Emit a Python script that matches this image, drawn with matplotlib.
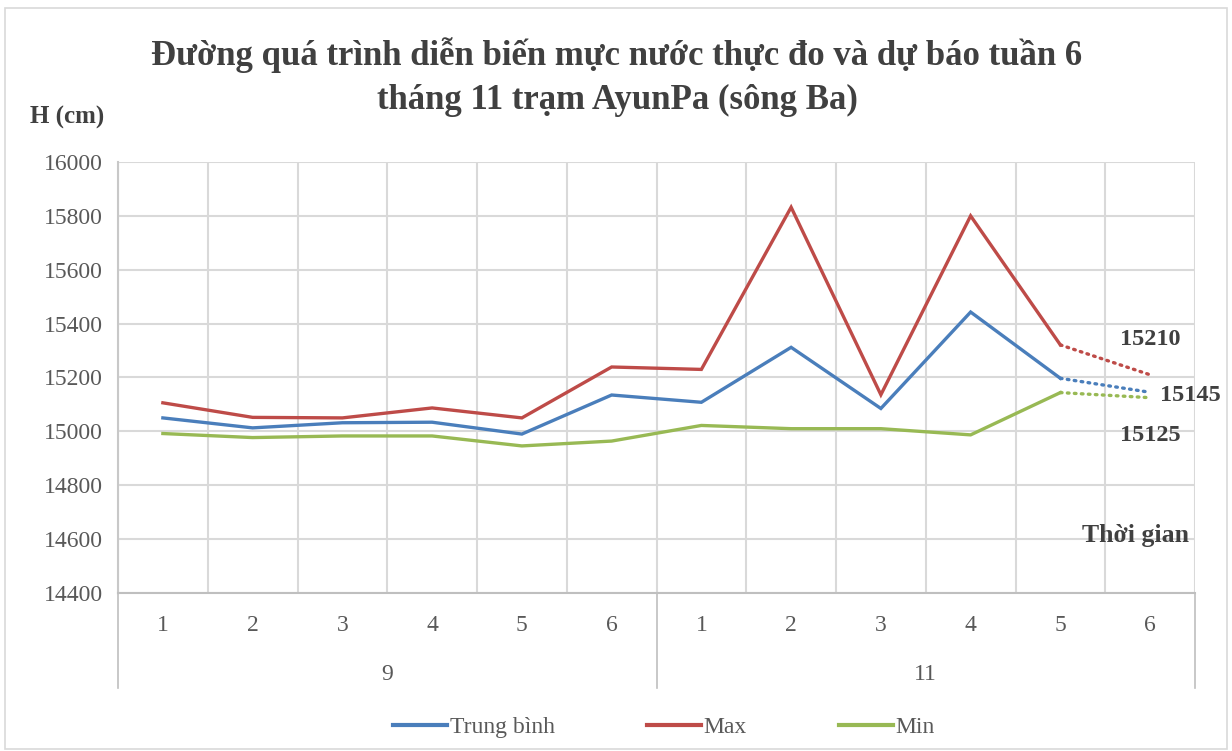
import matplotlib
matplotlib.use("Agg")
import matplotlib.pyplot as plt
from matplotlib.lines import Line2D
from matplotlib.patches import Rectangle

weeks = ["1", "2", "3", "4", "5", "6", "1", "2", "3", "4", "5", "6"]
months = ["9", "11"]
trung_binh = [15050, 15013, 15032, 15034, 14990, 15135, 15108, 15312, 15085, 15443, 15197]
max_vals = [15106, 15052, 15050, 15087, 15050, 15239, 15230, 15832, 15136, 15800, 15321]
min_vals = [14992, 14977, 14983, 14983, 14946, 14964, 15022, 15010, 15010, 14987, 15144]
forecast_tb = 15145
forecast_max = 15210
forecast_min = 15125
yticks = [14400, 14600, 14800, 15000, 15200, 15400, 15600, 15800, 16000]

C_TB = "#4a7ebb"
C_MAX = "#be4b48"
C_MIN = "#98b954"
SERIF = "Liberation Serif"
TXT = "#595959"
DARK = "#404040"

fig = plt.figure(figsize=(12.32, 7.51), dpi=100)
fig.patches.append(Rectangle((0.004, 0.002), 0.992, 0.987, transform=fig.transFigure,
                             fill=False, edgecolor="#d9d9d9", linewidth=1.2))
ax = fig.add_axes([118/1232, 1-593/751, (1195-118)/1232, (593-162)/751])

x = list(range(len(trung_binh)))
ax.plot(x, trung_binh, color=C_TB, lw=2.4, solid_joinstyle="miter")
ax.plot(x, max_vals, color=C_MAX, lw=2.4, solid_joinstyle="miter")
ax.plot(x, min_vals, color=C_MIN, lw=2.4, solid_joinstyle="miter")
n = len(trung_binh)
dots = (0, (0.5, 1.6))
ax.plot([n-1, n], [trung_binh[-1], forecast_tb], color=C_TB, lw=2.4, ls=dots, dash_capstyle="round")
ax.plot([n-1, n], [max_vals[-1], forecast_max], color=C_MAX, lw=2.4, ls=dots, dash_capstyle="round")
ax.plot([n-1, n], [min_vals[-1], forecast_min], color=C_MIN, lw=2.4, ls=dots, dash_capstyle="round")

ax.set_xlim(-0.5, 11.5)
ax.set_ylim(yticks[0], yticks[-1])
ax.set_yticks(yticks)
ax.set_yticklabels([str(v) for v in yticks], fontfamily=SERIF, fontsize=17, color=TXT)
ax.set_xticks([i + 0.5 for i in range(-1, 12)])
ax.set_xticklabels([])
ax.tick_params(axis="both", length=0, pad=11)
ax.grid(True, color="#d9d9d9", lw=1.5)
ax.set_axisbelow(True)
for s in ["top", "right"]:
    ax.spines[s].set_visible(False)
ax.spines["left"].set_color("#c8c8c8")
ax.spines["left"].set_linewidth(1.5)
ax.spines["bottom"].set_color("#bfbfbf")
ax.spines["bottom"].set_linewidth(1.5)

# category labels
for i, w in enumerate(weeks):
    ax.text(i, -0.075, w, transform=ax.get_xaxis_transform(), ha="center", va="center",
            fontfamily=SERIF, fontsize=17, color=TXT)
for j, m in enumerate(months):
    ax.text(2.5 + 6*j, -0.188, m, transform=ax.get_xaxis_transform(), ha="center", va="center",
            fontfamily=SERIF, fontsize=17, color=TXT)
for xb in [-0.5, 5.5, 11.5]:
    ax.plot([xb, xb], [0, -0.22], transform=ax.get_xaxis_transform(), color="#bfbfbf",
            lw=1.2, clip_on=False)

# forecast labels
ax.text(11.0, forecast_max + 130, str(forecast_max), ha="center", va="center",
        fontfamily=SERIF, fontweight="bold", fontsize=17.5, color=DARK)
ax.text(11.45, forecast_tb - 10, str(forecast_tb), ha="center", va="center",
        fontfamily=SERIF, fontweight="bold", fontsize=17.5, color=DARK, clip_on=False)
ax.text(11.0, forecast_tb - 160, str(forecast_min), ha="center", va="center",
        fontfamily=SERIF, fontweight="bold", fontsize=17.5, color=DARK)
ax.text(11.43, 14615, "Thời gian", ha="right", va="center",
        fontfamily=SERIF, fontweight="bold", fontsize=18.5, color=DARK)

fig.text(617/1232, 1-55/751, "Đường quá trình diễn biến mực nước thực đo và dự báo tuần 6",
         ha="center", va="center", fontfamily=SERIF, fontweight="bold", fontsize=25, color=DARK)
fig.text(617/1232, 1-100/751, "tháng 11 trạm AyunPa (sông Ba)",
         ha="center", va="center", fontfamily=SERIF, fontweight="bold", fontsize=25, color=DARK)
fig.text(30/1232, 1-117/751, "H (cm)", ha="left", va="center", fontfamily=SERIF,
         fontweight="bold", fontsize=18, color=DARK)

handles = [Line2D([], [], color=C_TB, lw=3), Line2D([], [], color=C_MAX, lw=3),
           Line2D([], [], color=C_MIN, lw=3)]
fig.legend(handles, ["Trung bình", "Max", "Min"], loc="center", bbox_to_anchor=(664/1232, 1-727/751),
           ncol=3, frameon=False, prop={"family": SERIF, "size": 17}, handlelength=2.3,
           handletextpad=0.1, columnspacing=3.9, labelcolor=TXT)

fig.savefig("out.png", dpi=100)
